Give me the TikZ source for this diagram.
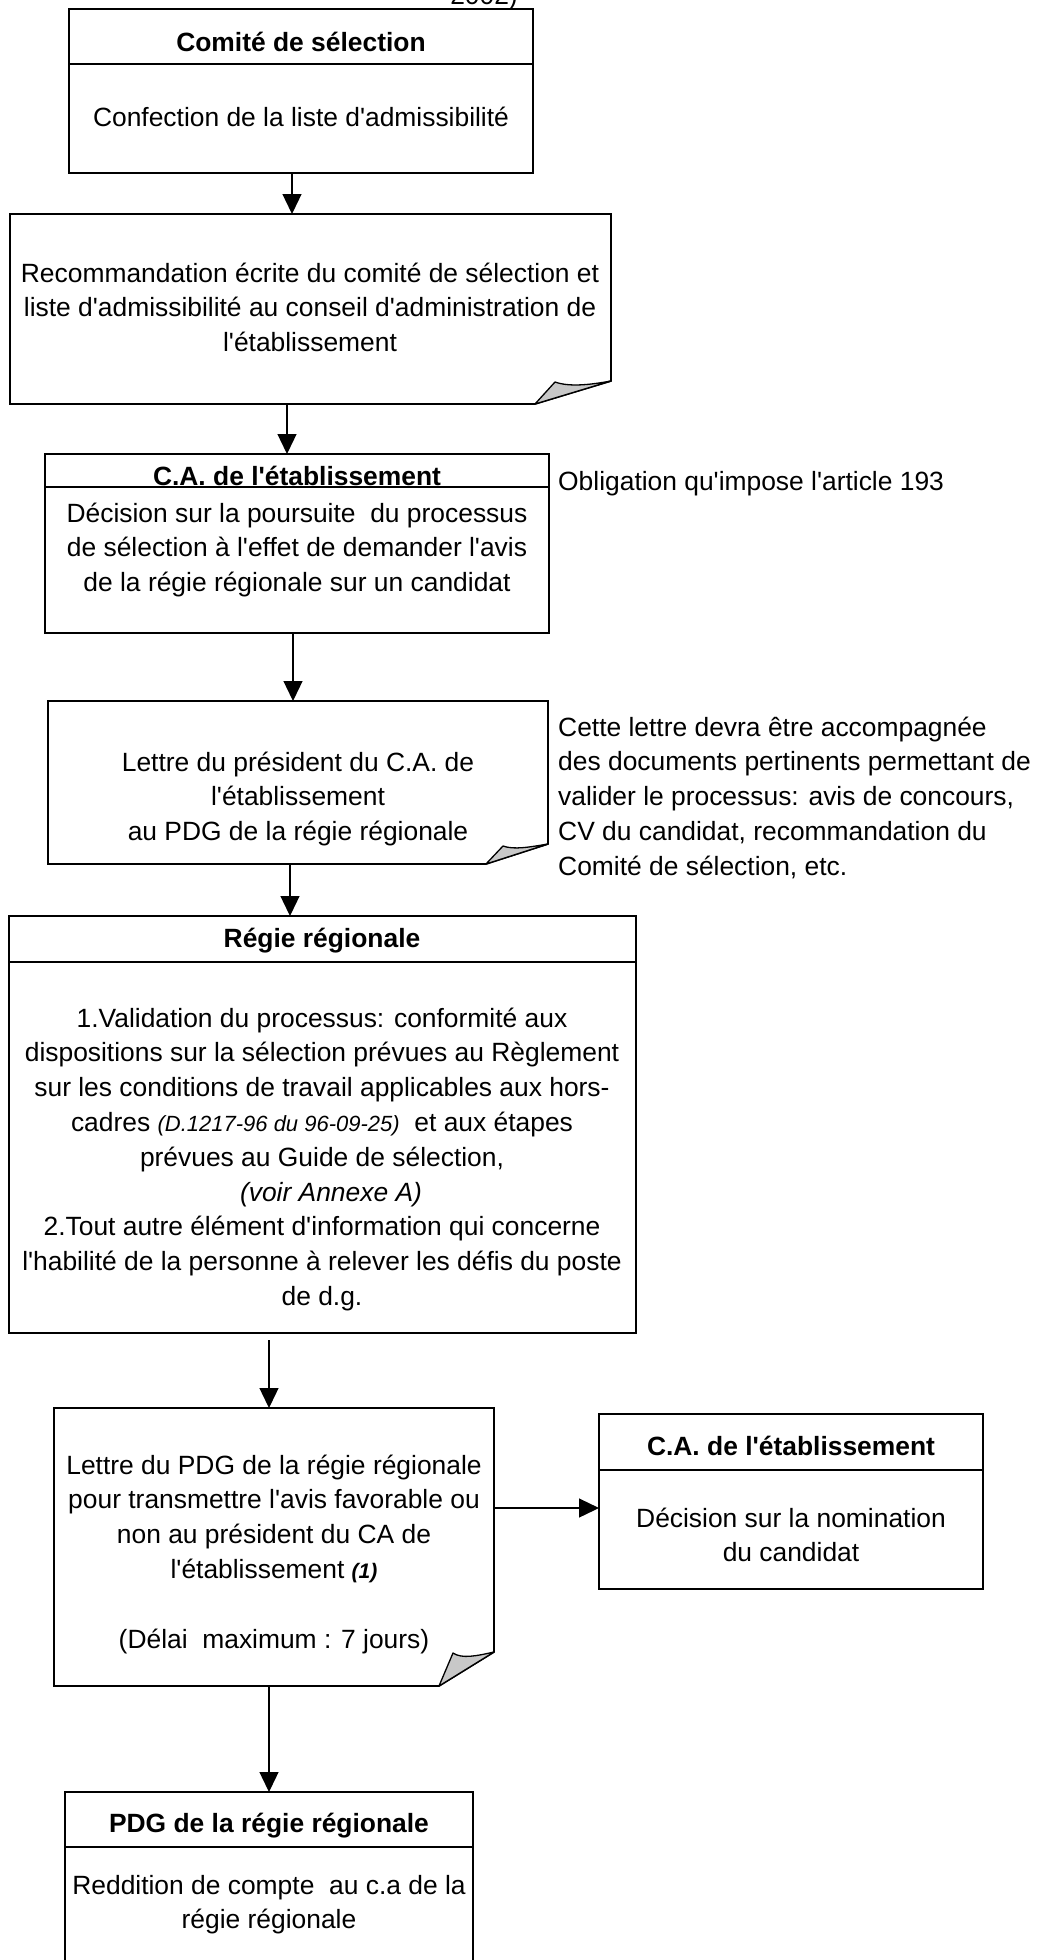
\documentclass[tikz,border=0pt]{standalone}
\usepackage{fontspec}
\newfontfamily\af{Liberation Sans}
\usetikzlibrary{arrows.meta,calc}
\definecolor{curlgray}{RGB}{200,200,200}
\begin{document}
\begin{tikzpicture}[x=1pt,y=-1pt,
  box/.style={draw, line width=1.7pt, inner sep=0pt, outer sep=0pt, anchor=north west},
  plain/.style={inner sep=0pt, outer sep=0pt, anchor=north west},
  txt/.style={font=\af\fontsize{26.4}{34.8}\selectfont, align=center, inner sep=0pt, anchor=base},
  hd/.style={font=\af\fontsize{26.4}{34.8}\selectfont\bfseries, align=center, inner sep=0pt, anchor=base},
  side/.style={font=\af\fontsize{26.4}{34.8}\selectfont, align=left, inner sep=0pt, anchor=base west},
  rule/.style={line width=1.7pt},
  doc/.style={draw, line width=1.7pt, line join=miter},
  curl/.style={draw, line width=1.3pt, fill=curlgray, line join=round},
  arr/.style={line width=1.3pt, -{Triangle[length=20pt,width=19pt]}},
]
\clip (0,0) rectangle (1037,1960);
\fill[white] (0,0) rectangle (1037,1960);

% cut-off text at the top
\node[txt, anchor=base east] (top) at (518,4) {2002)};

% x positions of the vertical connectors
\coordinate (x292) at (292,0);
\coordinate (x287) at (287,0);
\coordinate (x293) at (293,0);
\coordinate (x290) at (290,0);
\coordinate (x269) at (269,0);
\coordinate (y1508) at (0,1508);

% Box 1
\node[box, minimum width=464pt, minimum height=164pt] (b1) at (69,9) {};
\draw[rule] ($(b1.north west)+(0,55)$) -- ($(b1.north east)+(0,55)$);
\node[hd] (b1h) at (301,51) {Comité de sélection};
\node[txt] (b1t) at (301,126) {Confection de la liste d'admissibilité};

% Box 2 (document)
\node[plain, minimum width=601pt, minimum height=190pt] (b2) at (10,214) {};
\draw[doc] (b2.north west) -- (b2.north east) -- ($(b2.south east)+(0,-23)$) -- ($(b2.south east)+(-76,0)$) -- (b2.south west) -- cycle;
\filldraw[curl] ($(b2.south east)+(-76,0)$) -- ($(b2.south east)+(-56,-22)$) .. controls ($(b2.south east)+(-42,-17)$) and ($(b2.south east)+(-22,-19)$) .. ($(b2.south east)+(0,-23)$) -- cycle;
\node[txt] (b2t) at (310,351.6) {Recommandation écrite du comité de sélection et\\liste d'admissibilité au conseil d'administration de\\l'établissement};

% Box 3
\node[box, minimum width=504pt, minimum height=179pt] (b3) at (45,454) {};
\draw[rule] ($(b3.north west)+(0,33)$) -- ($(b3.north east)+(0,33)$);
\node[hd] (b3h) at (297,485) {C.A. de l'établissement};
\node[txt] (b3t) at (297,591.6) {Décision sur la poursuite\ \ du processus\\de sélection à l'effet de demander l'avis\\de la régie régionale sur un candidat};
\node[side] (n1) at (558,490) {Obligation qu'impose l'article 193};

% Box 4 (document)
\node[plain, minimum width=500pt, minimum height=163pt] (b4) at (48,701) {};
\draw[doc] (b4.north west) -- (b4.north east) -- ($(b4.south east)+(0,-20)$) -- ($(b4.south east)+(-62,0)$) -- (b4.south west) -- cycle;
\filldraw[curl] ($(b4.south east)+(-62,0)$) -- ($(b4.south east)+(-45,-18)$) .. controls ($(b4.south east)+(-34,-14)$) and ($(b4.south east)+(-18,-17)$) .. ($(b4.south east)+(0,-20)$) -- cycle;
\node[txt] (b4t) at (298,840.6) {Lettre du président du C.A. de\\l'établissement\\au PDG de la régie régionale};
\node[side] (n2) at (558,875.2) {Cette lettre devra être accompagnée\\des documents pertinents permettant de\\valider le processus: avis de concours,\\CV du candidat, recommandation du\\Comité de sélection, etc.};

% Box 5
\node[box, minimum width=627pt, minimum height=417pt] (b5) at (9,916) {};
\draw[rule] ($(b5.north west)+(0,46)$) -- ($(b5.north east)+(0,46)$);
\node[hd] (b5h) at (322,947) {Régie régionale};
\node[txt] (b5t) at (322,1305.4) {1.Validation du processus: conformité aux\\dispositions sur la sélection prévues au Règlement\\sur les conditions de travail applicables aux hors-\\cadres {\fontsize{22}{34.8}\selectfont\itshape (D.1217-96 du 96-09-25)}\ \ et aux étapes\\prévues au Guide de sélection,\\\hspace*{18pt}{\itshape (voir Annexe A)}\\2.Tout autre élément d'information qui concerne\\l'habilité de la personne à relever les défis du poste\\de d.g.};

% Box 6 (document)
\node[plain, minimum width=440pt, minimum height=278pt] (b6) at (54,1408) {};
\draw[doc] (b6.north west) -- (b6.north east) -- ($(b6.south east)+(0,-34)$) -- ($(b6.south east)+(-55,0)$) -- (b6.south west) -- cycle;
\filldraw[curl] ($(b6.south east)+(-55,0)$) -- ($(b6.south east)+(-41,-33)$) .. controls ($(b6.south east)+(-32,-27)$) and ($(b6.south east)+(-18,-30)$) .. ($(b6.south east)+(0,-34)$) -- cycle;
\node[txt] (b6t) at (274,1648) {Lettre du PDG de la régie régionale\\pour transmettre l'avis favorable ou\\non au président du CA de\\l'établissement {\fontsize{21}{34.8}\selectfont\bfseries\itshape (1)}\\[34.8pt](Délai\ \ maximum : 7 jours)};

% Box 7
\node[box, minimum width=384pt, minimum height=175pt] (b7) at (599,1414) {};
\draw[rule] ($(b7.north west)+(0,56)$) -- ($(b7.north east)+(0,56)$);
\node[hd] (b7h) at (791,1455) {C.A. de l'établissement};
\node[txt] (b7t) at (791,1561.8) {Décision sur la nomination\\du candidat};

% Box 8
\node[box, minimum width=408pt, minimum height=220pt] (b8) at (65,1792) {};
\draw[rule] ($(b8.north west)+(0,55)$) -- ($(b8.north east)+(0,55)$);
\node[hd] (b8h) at (269,1832) {PDG de la régie régionale};
\node[txt] (b8t) at (269,1928.8) {Reddition de compte\ \ au c.a de la\\régie régionale};

% Connectors
\draw[arr] (b1.south -| x292) -- (b2.north -| x292);
\draw[arr] (b2.south -| x287) -- (b3.north -| x287);
\draw[arr] (b3.south -| x293) -- (b4.north -| x293);
\draw[arr] (b4.south -| x290) -- (b5.north -| x290);
\draw[arr, shorten <=7pt] (b5.south -| x269) -- (b6.north -| x269);
\draw[arr] (b6.south -| x269) -- (b8.north -| x269);
\draw[arr] (b6.east |- y1508) -- (b7.west |- y1508);
\end{tikzpicture}
\end{document}
